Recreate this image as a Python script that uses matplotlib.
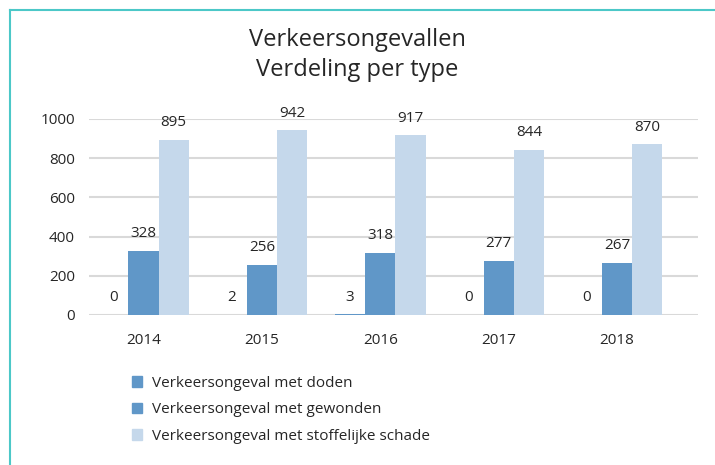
import matplotlib.pyplot as plt
import numpy as np
from matplotlib.lines import Line2D
from matplotlib.patches import Patch

plt.rcParams['font.family'] = ['Open Sans', 'DejaVu Sans']

# data
years = ["2014", "2015", "2016", "2017", "2018"]
doden = [0, 2, 3, 0, 0]
gewonden = [328, 256, 318, 277, 267]
stoffelijk = [895, 942, 917, 844, 870]
series_names = ["Verkeersongeval met doden",
                "Verkeersongeval met gewonden",
                "Verkeersongeval met stoffelijke schade"]

dark = "#6097C8"
light = "#C5D8EB"
colors = [dark, dark, light]

fig = plt.figure(figsize=(7.15, 4.65), dpi=100)
ax = fig.add_axes([89 / 715, 1 - 315 / 465, (698 - 89) / 715, (315 - 119) / 465])

x = np.arange(len(years))
w = 0.255
for i, (vals, col) in enumerate(zip([doden, gewonden, stoffelijk], colors)):
    bars = ax.bar(x + (i - 1) * w, vals, width=w, color=col, clip_on=False, zorder=3)
    for b, v in zip(bars, vals):
        ax.annotate(str(v), (b.get_x() + b.get_width() / 2, v),
                    xytext=(0, 7), textcoords="offset points",
                    ha="center", va="bottom", fontsize=11, color="#262626")

ax.set_xlim(-0.46, 4.683)
ax.set_ylim(0, 1000)
ax.set_yticks([0, 200, 400, 600, 800, 1000])
ax.set_xticks(x)
ax.set_xticklabels(years)
ax.tick_params(length=0, labelsize=11, colors="#262626")
ax.tick_params(axis="x", pad=13)
ax.tick_params(axis="y", pad=10)
ax.grid(axis="y", color="#D9D9D9", linewidth=1.5, zorder=0)
for s in ax.spines.values():
    s.set_visible(False)

fig.text(0.5, 1 - 55 / 465, "Verkeersongevallen\nVerdeling per type",
         ha="center", va="center", fontsize=17, color="#262626", linespacing=1.35)

handles = [Patch(color=c) for c in colors]
fig.legend(handles, series_names, loc="upper left",
           bbox_to_anchor=(118 / 715, 1 - 362 / 465), frameon=False,
           fontsize=11, handlelength=0.7, handleheight=0.7,
           handletextpad=0.6, labelspacing=0.75, labelcolor="#262626")

# teal border on top and left
teal = "#4CC8C8"
fig.add_artist(Line2D([10 / 715, 1], [1 - 10 / 465, 1 - 10 / 465],
                      transform=fig.transFigure, color=teal, linewidth=1.5))
fig.add_artist(Line2D([10 / 715, 10 / 715], [0, 1 - 10 / 465],
                      transform=fig.transFigure, color=teal, linewidth=1.5))

fig.savefig("out.png", dpi=100)
